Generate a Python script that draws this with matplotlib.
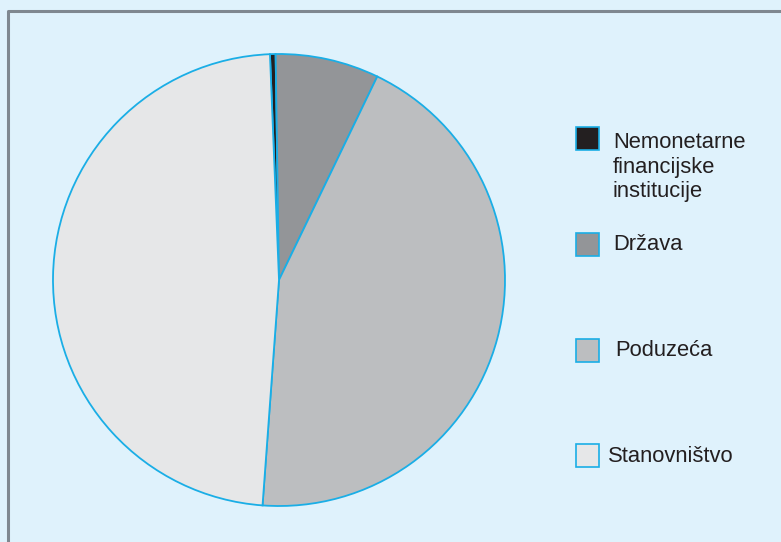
import matplotlib.pyplot as plt
import matplotlib.patches as patch

labels = ["Nemonetarne\nfinancijske\ninstitucije", "Država", "Poduzeća", "Stanovništvo"]
shares = [0.4, 7.4, 44.0, 48.2]
colors = ["#231f20", "#939598", "#bcbec0", "#e6e7e8"]

bg = "#dff2fc"
edge = "#1aaee6"

W, H = 781, 542
fig = plt.figure(figsize=(W / 100, H / 100), dpi=100, facecolor=bg)
ax = fig.add_axes([0, 0, 1, 1])
ax.set_facecolor(bg)

# pie, pixel coords (y flipped)
ax.pie(shares, colors=colors, startangle=92.3, counterclock=False,
       center=(279, H - 280), radius=226, frame=True,
       wedgeprops=dict(edgecolor=edge, linewidth=1.3))
ax.set_xlim(0, W)
ax.set_ylim(0, H)
ax.set_aspect("equal")
ax.axis("off")

# frame lines (left and top)
ax.plot([8, 8, W + 5], [-5, H - 11, H - 11], color="#7f8890", lw=2.2,
        solid_capstyle="butt", clip_on=False)

# legend
box_y = [138, 244, 350, 455]
text_x = [613, 613, 615, 608]
text_y = [167, 245, 351, 456]
for lab, c, by, tx, ty in zip(labels, colors, box_y, text_x, text_y):
    ax.add_patch(patch.Rectangle((576, H - by - 11.5), 23, 23, facecolor=c,
                                 edgecolor=edge, linewidth=1.2))
    ax.text(tx, H - ty, lab, fontsize=15.8, family="Liberation Sans",
            color="#231f20", va="center", ha="left", linespacing=1.24)

fig.savefig("out.png", dpi=100, facecolor=bg)
